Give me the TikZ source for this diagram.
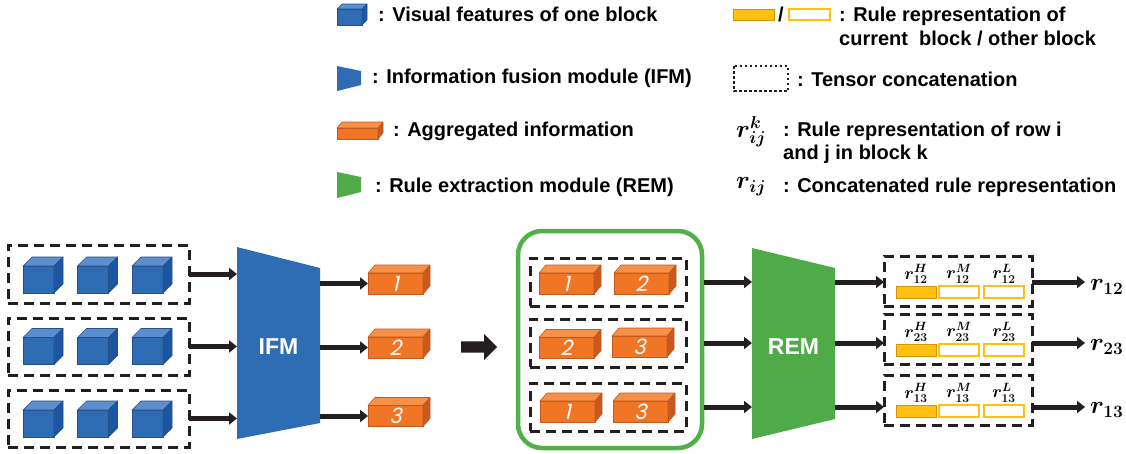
\documentclass[tikz,border=0pt]{standalone}
\usepackage[no-math]{fontspec}
\usepackage{bm}
\setmainfont{Liberation Sans}
\newfontfamily\numfont[FakeSlant=0.22]{Poppins}
\usetikzlibrary{calc,shapes.arrows,arrows.meta}

\definecolor{ink}{HTML}{231F20}
\definecolor{cubeF}{HTML}{2E6DB4}
\definecolor{cubeT}{HTML}{5B8DCF}
\definecolor{cubeS}{HTML}{1C56A0}
\definecolor{cubeE}{HTML}{244F8A}
\definecolor{ifmblue}{HTML}{2E6DB4}
\definecolor{barF}{HTML}{F07524}
\definecolor{barT}{HTML}{F6914A}
\definecolor{barS}{HTML}{C95A1F}
\definecolor{barE}{HTML}{C4571C}
\definecolor{remgreen}{HTML}{4EAB48}
\definecolor{frameG}{HTML}{52B049}
\definecolor{ruleY}{HTML}{FFC010}
\definecolor{ruleE}{HTML}{D0950A}

% top and side faces of a box whose front face is node #1
\newcommand\solidfaces[4]{%
  \filldraw[fill=#4T,draw=#4E,line width=.6pt,line join=round]
    (#1.north west) -- ++(#2,-#3) -- ($(#1.north east)+(#2,-#3)$) -- (#1.north east) -- cycle;
  \filldraw[fill=#4S,draw=#4E,line width=.6pt,line join=round]
    (#1.north east) -- ++(#2,-#3) -- ($(#1.south east)+(#2,-#3)$) -- (#1.south east) -- cycle;
}

\tikzset{
  dbox/.style={draw=ink,line width=3pt,dash pattern=on 10pt off 6pt,inner sep=0pt,outer sep=0pt},
  cubefront/.style={fill=cubeF,draw=cubeE,line width=.6pt,minimum width=31pt,minimum height=27pt,inner sep=0pt,outer sep=0pt},
  barfront/.style={fill=barF,draw=barE,line width=.6pt,minimum width=55pt,minimum height=21pt,inner sep=0pt,outer sep=0pt,
                   text=white,font=\numfont\mdseries\fontsize{21}{21}\selectfont},
  flow/.style={draw=ink,line width=5pt,-{Triangle[length=8pt,width=12pt]}},
  modlabel/.style={text=white,font=\fontsize{23}{27}\selectfont\bfseries},
  keytext/.style={anchor=base west,inner sep=0pt},
  rulefull/.style={fill=ruleY,draw=ruleE,line width=1pt,minimum width=40pt,minimum height=12pt,inner sep=0pt},
  ruleempty/.style={fill=white,draw=ruleY,line width=1.4pt,minimum width=40pt,minimum height=12pt,inner sep=0pt},
  rulelab/.style={anchor=south,inner sep=0pt,yshift=2pt,font=\fontsize{17}{18}\selectfont},
  bigsym/.style={anchor=west,inner sep=0pt,font=\fontsize{26}{28}\selectfont},
}

\begin{document}
\begin{tikzpicture}[x=1pt,y=-1pt,font=\fontsize{20}{24}\selectfont\bfseries]
\useasboundingbox (0,0) rectangle (1126,453);

% ---------------- key ----------------
\node[cubefront,minimum width=25pt,minimum height=16pt] (keycube) at (349.5,17) {};
\solidfaces{keycube}{5}{5}{cube}
\node[keytext] (k1) at (378,21) {: Visual features of one block};

\fill[ifmblue] (337,66) -- (361,71) -- (361,85) -- (337,91) -- cycle;
\node[keytext] (k2) at (372,83) {: Information fusion module (IFM)};

\node[barfront,minimum width=41pt,minimum height=11pt] (keybar) at (357.5,133.5) {};
\solidfaces{keybar}{5}{6}{bar}
\node[keytext] (k3) at (393,136) {: Aggregated information};

\fill[remgreen] (337,172) -- (361,177) -- (361,192) -- (337,198) -- cycle;
\node[keytext] (k4) at (375,192) {: Rule extraction module (REM)};

\node[rulefull,minimum width=41pt,minimum height=11pt] (keyfull) at (753.5,14.5) {};
\node[keytext] (slash) at (778,21) {/};
\node[ruleempty,minimum width=41pt,minimum height=11pt] (keyempty) at (809.5,14.5) {};
\node[keytext] (k5) at (839,21) {: Rule representation of};
\node[keytext] (k5b) at (839,45) {current\ \ block / other block};

\draw[ink,line width=2.5pt,dash pattern=on 2.5pt off 2.5pt] (734,66) rectangle (788,91);
\node[keytext] (k6) at (797,86) {: Tensor concatenation};

\node[bigsym] (symk) at (736,132) {$\bm{r}^{\bm{k}}_{\bm{ij}}$};
\node[keytext] (k7) at (783,136) {: Rule representation of row i};
\node[keytext] (k7b) at (783,159) {and j in block k};

\node[bigsym] (symr) at (736,187) {$\bm{r}_{\bm{ij}}$};
\node[keytext] (k8) at (783,192) {: Concatenated rule representation};

% ---------------- visual features of the three rows ----------------
\foreach \r/\y in {1/279.5,2/351,3/423.5}
  \foreach \c/\x in {1/38.5,2/93,3/147.5}{
    \node[cubefront] (cube\r\c) at (\x,\y) {};
    \solidfaces{cube\r\c}{9}{9}{cube}
  }
\node[dbox,minimum width=181pt,minimum height=58pt] (grp1) at (98.5,274) {};
\node[dbox,minimum width=181pt,minimum height=57pt] (grp2) at (98.5,346.5) {};
\node[dbox,minimum width=181pt,minimum height=57pt] (grp3) at (98.5,418.5) {};

% ---------------- information fusion module ----------------
\coordinate (ifmNW) at (237,247);
\coordinate (ifmNE) at (320,268);
\coordinate (ifmSE) at (320,423);
\coordinate (ifmSW) at (237,439);
\fill[ifmblue] (ifmNW) -- (ifmNE) -- (ifmSE) -- (ifmSW) -- cycle;
\node[modlabel] (ifm) at (278.5,347) {IFM};
\foreach \i in {1,2,3}
  \draw[flow] (grp\i.east) -- (grp\i.east -| ifmNW);

% ---------------- aggregated information ----------------
\foreach \i/\y in {1/283.5,2/347.5,3/416}{
  \node[barfront] (agg\i) at (395.5,\y) {\i};
  \solidfaces{agg\i}{7}{8}{bar}
  \draw[flow] (agg\i.west -| ifmNE) -- (agg\i.west);
}

% ---------------- transition arrow ----------------
\node[single arrow,fill=ink,draw=none,anchor=tail,minimum height=36pt,minimum width=26pt,
      single arrow head extend=7.5pt,inner sep=5.5pt] (go) at (461,347) {};

% ---------------- pairs of rows ----------------
\node[draw=frameG,line width=4.5pt,rounded corners=24pt,minimum width=184pt,minimum height=217pt,
      inner sep=0pt,outer sep=2.25pt] (frame) at (610,339.5) {};
\foreach \n/\x/\y/\t in {pa/566.5/283.5/1,pb/641.5/283.5/2,qa/566.5/348/2,qb/639.5/346.5/3,sa/567.5/411.5/1,sb/640.5/411.5/3}{
  \node[barfront] (\n) at (\x,\y) {\t};
  \solidfaces{\n}{7}{8}{bar}
}
\node[dbox,minimum width=156pt,minimum height=48pt] (pair1) at (608,282) {};
\node[dbox,minimum width=156pt,minimum height=48pt] (pair2) at (608,343) {};
\node[dbox,minimum width=156pt,minimum height=48pt] (pair3) at (608,407) {};

% ---------------- rule extraction module ----------------
\coordinate (remNW) at (752,248);
\coordinate (remNE) at (835,268);
\coordinate (remSE) at (835,419);
\coordinate (remSW) at (752,439);
\fill[remgreen] (remNW) -- (remNE) -- (remSE) -- (remSW) -- cycle;
\node[modlabel] (rem) at (793.5,347) {REM};
\foreach \i in {1,2,3}
  \draw[flow] (pair\i.east -| frame.east) -- (pair\i.east -| remNW);

% ---------------- rule representations ----------------
\foreach \i/\y/\ij in {1/281/12,2/339/23,3/400/13}{
  \node[dbox,minimum width=148pt,minimum height=50pt] (rule\i) at (958,\y) {};
  \node[rulefull] (h\i) at (916,\y+11) {};
  \node[ruleempty] (m\i) at (959,\y+11) {};
  \node[ruleempty] (l\i) at (1004,\y+11) {};
  \node[rulelab] (hl\i) at (h\i.north) {$\bm{r}^{\bm{H}}_{\mathbf{\ij}}$};
  \node[rulelab] (ml\i) at (m\i.north) {$\bm{r}^{\bm{M}}_{\mathbf{\ij}}$};
  \node[rulelab] (ll\i) at (l\i.north) {$\bm{r}^{\bm{L}}_{\mathbf{\ij}}$};
}
\node[anchor=west,inner sep=5pt,font=\fontsize{24}{26}\selectfont] (out1) at (1085,287) {$\bm{r}_{\mathbf{12}}$};
\node[anchor=west,inner sep=5pt,font=\fontsize{24}{26}\selectfont] (out2) at (1085,347) {$\bm{r}_{\mathbf{23}}$};
\node[anchor=west,inner sep=5pt,font=\fontsize{24}{26}\selectfont] (out3) at (1085,410) {$\bm{r}_{\mathbf{13}}$};
\foreach \i/\p in {1/pair1,2/pair2,3/pair3}{
  \draw[flow] (\p.east -| remNE) -- (\p.east -| rule\i.west);
  \draw[flow] (\p.east -| rule\i.east) -- (\p.east -| out\i.west);
}
\end{tikzpicture}
\end{document}
